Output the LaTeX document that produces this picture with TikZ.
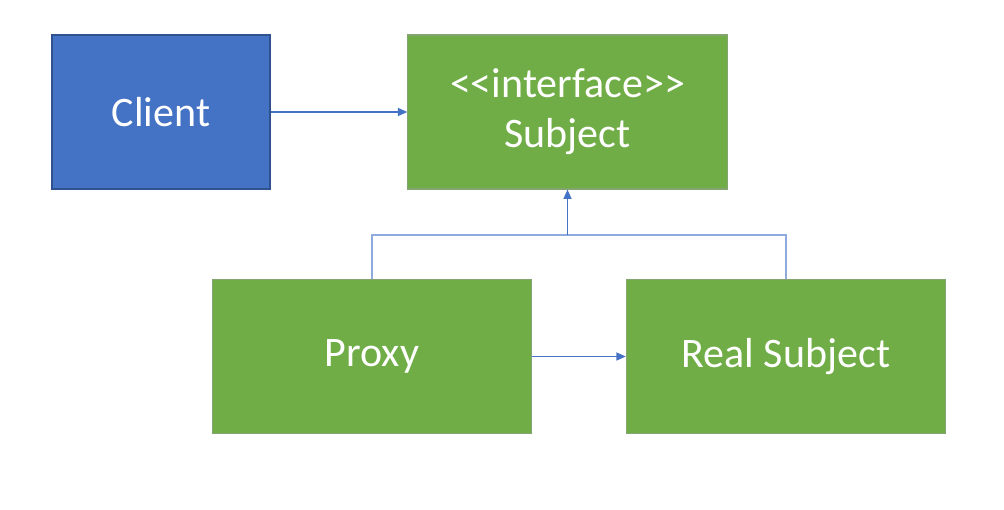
\documentclass[tikz,border=0pt]{standalone}
\usepackage{fontspec}
\setmainfont{Carlito}
\usetikzlibrary{arrows.meta,positioning}
\definecolor{clientblue}{HTML}{4472C4}
\definecolor{clientedge}{HTML}{2F528F}
\definecolor{classgreen}{HTML}{70AD47}
\definecolor{classedge}{HTML}{507E32}
\begin{document}
\begin{tikzpicture}[
        x=0.75pt, y=-0.75pt,
        every node/.style={align=center, font=\fontsize{31.5}{37.5}\selectfont, text=white},
        client/.style={rectangle, draw=clientedge, fill=clientblue, line width=0.8pt, minimum width=163.5pt, minimum height=115.5pt, inner sep=0pt},
        classbox/.style={rectangle, draw=classedge!70, fill=classgreen, line width=0.8pt, minimum width=239.5pt, minimum height=115.5pt, inner sep=0pt},
        arrow/.style={draw=clientblue, line width=0.9pt, -{Triangle[length=7pt,width=6pt]}},
        link/.style={draw=clientblue!60, line width=0.9pt}
    ]
    \useasboundingbox (0,0) rectangle (1004,510);

    % Nodes
    \node (client) [client] at (161,112) {Client};
    \node (subject) [classbox] at (567.5,112) {<{}<interface>{}>\\Subject};
    \node (proxy) [classbox] at (372,356.5) {Proxy};
    \node (realsubject) [classbox] at (786,356.5) {Real Subject};
    \coordinate (junction) at (567.5,235);

    % Arrows
    \draw [arrow] (client.east) -- (subject.west);
    \draw [arrow] (proxy.east) -- (realsubject.west);
    \draw [link] (proxy.north) |- (junction) -| (realsubject.north);
    \draw [arrow] (junction) -- (subject.south);

\end{tikzpicture}
\end{document}
